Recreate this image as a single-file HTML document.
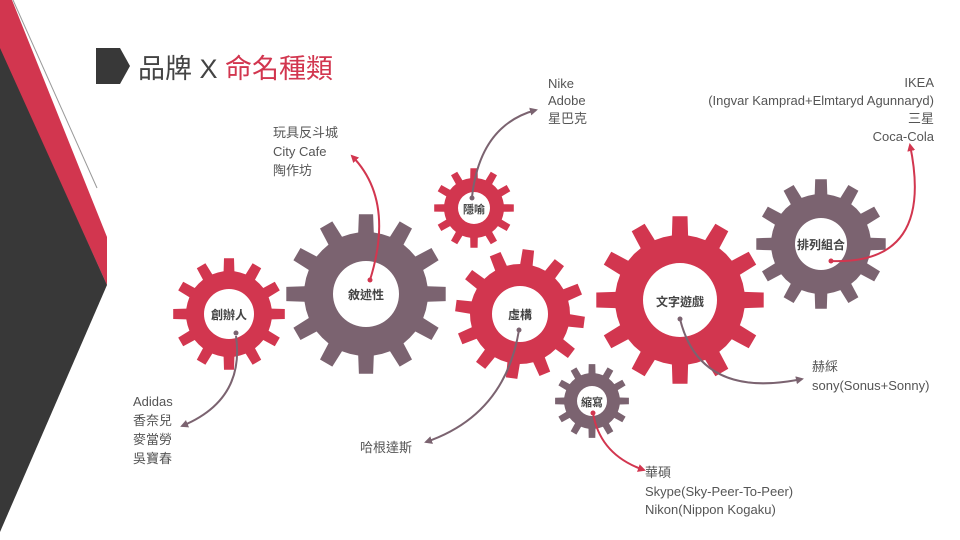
<!DOCTYPE html>
<html><head><meta charset="utf-8"><style>
html,body{margin:0;padding:0;background:#fff;}
svg{display:block;}
text{font-family:"Liberation Sans","Noto Sans CJK TC",sans-serif;}
.l{font-size:13px;fill:#555;}
.g{font-size:12px;fill:#444;font-weight:bold;}
</style></head><body>
<svg id="s" width="960" height="540" viewBox="0 0 960 540" xmlns="http://www.w3.org/2000/svg">
<defs>
<marker id="ap" markerWidth="8" markerHeight="8" refX="6" refY="4" orient="auto" markerUnits="userSpaceOnUse"><path d="M0,0 L8,4 L0,8 z" fill="#7b6370"/></marker>
<marker id="ar" markerWidth="8" markerHeight="8" refX="6" refY="4" orient="auto" markerUnits="userSpaceOnUse"><path d="M0,0 L8,4 L0,8 z" fill="#d2364f"/></marker>
</defs>
<polygon points="0,0 12,0 107,237 107,285 0,50" fill="#d2364f"/>
<polygon points="0,48 107,285 0,532" fill="#383838"/>
<line x1="13" y1="0" x2="97" y2="188" stroke="#999" stroke-width="1"/>
<polygon points="96,48 120,48 130,66 120,84 96,84" fill="#383838"/>
<text x="138" y="78" style="font-size:27px;fill:#444">品牌 X <tspan fill="#d2364f">命名種類</tspan></text>
<g id="gears"></g>
<g fill="none" stroke-width="2">
<path d="M236,336 Q245,400 182,426" stroke="#7b6370" marker-end="url(#ap)"/>
<path d="M370,280 Q395,200 352,156" stroke="#d2364f" marker-end="url(#ar)"/>
<path d="M472,197 Q480,125 536,110" stroke="#7b6370" marker-end="url(#ap)"/>
<path d="M519,330 Q505,415 426,442" stroke="#7b6370" marker-end="url(#ap)"/>
<path d="M680,319 Q700,400 802,379" stroke="#7b6370" marker-end="url(#ap)"/>
<path d="M831,261 Q935,265 910,145" stroke="#d2364f" marker-end="url(#ar)"/>
<path d="M593,413 Q600,455 644,470" stroke="#d2364f" marker-end="url(#ar)"/>
</g>
<g>
<circle cx="236" cy="333" r="2.5" fill="#7b6370"/>
<circle cx="370" cy="280" r="2.5" fill="#d2364f"/>
<circle cx="472" cy="198" r="2.5" fill="#7b6370"/>
<circle cx="519" cy="330" r="2.5" fill="#7b6370"/>
<circle cx="680" cy="319" r="2.5" fill="#7b6370"/>
<circle cx="831" cy="261" r="2.5" fill="#d2364f"/>
<circle cx="593" cy="413" r="2.5" fill="#d2364f"/>
</g>
<text class="g" x="229" y="319" text-anchor="middle">創辦人</text>
<text class="g" x="366" y="299" text-anchor="middle">敘述性</text>
<text class="g" x="474" y="213" text-anchor="middle" style="font-size:11px">隱喻</text>
<text class="g" x="520" y="319" text-anchor="middle">虛構</text>
<text class="g" x="680" y="306" text-anchor="middle">文字遊戲</text>
<text class="g" x="821" y="249" text-anchor="middle">排列組合</text>
<text class="g" x="592" y="406" text-anchor="middle" style="font-size:11px">縮寫</text>
<g class="l">
<text x="273" y="137">玩具反斗城</text><text x="273" y="156">City Cafe</text><text x="273" y="175">陶作坊</text>
<text x="548" y="88">Nike</text><text x="548" y="105">Adobe</text><text x="548" y="123">星巴克</text>
<text x="934" y="87" text-anchor="end">IKEA</text><text x="934" y="105" text-anchor="end">(Ingvar Kamprad+Elmtaryd Agunnaryd)</text><text x="934" y="123" text-anchor="end">三星</text><text x="934" y="141" text-anchor="end">Coca-Cola</text>
<text x="133" y="406">Adidas</text><text x="133" y="425">香奈兒</text><text x="133" y="444">麥當勞</text><text x="133" y="463">吳寶春</text>
<text x="360" y="452">哈根達斯</text>
<text x="812" y="371">赫綵</text><text x="812" y="390">sony(Sonus+Sonny)</text>
<text x="645" y="477">華碩</text><text x="645" y="496">Skype(Sky-Peer-To-Peer)</text><text x="645" y="514">Nikon(Nippon Kogaku)</text>
</g>
</svg>
<script>
(function(){
var gears=[[229,314,56,43,25,'#d2364f',0],[366,294,80,62,33,'#7b6370',0],[474,208,40,30,16,'#d2364f',0],[520,314,65,50,28,'#d2364f',0.13],[680,300,84,65,37,'#d2364f',0],[821,244,65,50,26,'#7b6370',0],[592,401,37,28,15,'#7b6370',0]];
var g=document.getElementById('gears'),ns='http://www.w3.org/2000/svg';
gears.forEach(function(p){
var cx=p[0],cy=p[1],ro=p[2],ri=p[3],rh=p[4],n=12,st=2*Math.PI/n,d='';
for(var i=0;i<n;i++){var a=i*st-Math.PI/2+p[6];
var pts=[[ri,a-st*0.5],[ri,a-st*0.24],[ro,a-st*0.17],[ro,a+st*0.17],[ri,a+st*0.24]];
pts.forEach(function(q,j){var x=cx+q[0]*Math.cos(q[1]),y=cy+q[0]*Math.sin(q[1]);d+=(i==0&&j==0?'M':'L')+x.toFixed(1)+','+y.toFixed(1);});}
d+='Z M'+(cx+rh)+','+cy+' A'+rh+','+rh+' 0 1 0 '+(cx-rh)+','+cy+' A'+rh+','+rh+' 0 1 0 '+(cx+rh)+','+cy+'Z';
var e=document.createElementNS(ns,'path');e.setAttribute('d',d);e.setAttribute('fill',p[5]);e.setAttribute('fill-rule','evenodd');g.appendChild(e);});
})();
</script>
</body></html>
